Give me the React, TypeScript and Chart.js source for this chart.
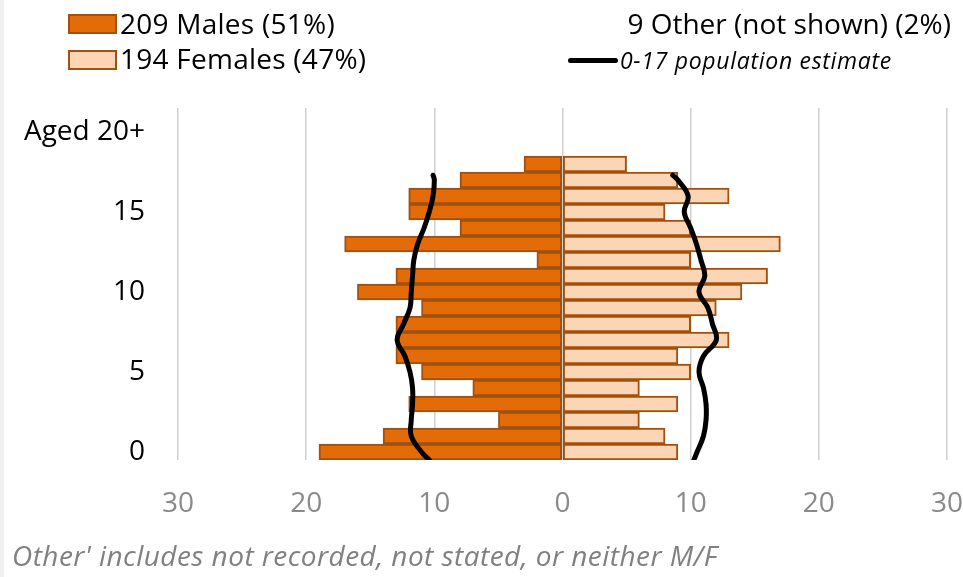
import React, { useEffect, useRef } from 'react';
import { Chart, registerables } from 'chart.js';

Chart.register(...registerables);

// Single-year age bands (bars)
const ages = [0, 1, 2, 3, 4, 5, 6, 7, 8, 9, 10, 11, 12, 13, 14, 15, 16, 17, 18];
const males = [19, 14, 5, 12, 7, 11, 13, 13, 13, 11, 16, 13, 2, 17, 8, 12, 12, 8, 3];
const females = [9, 8, 6, 9, 6, 10, 9, 13, 10, 12, 14, 16, 10, 17, 10, 8, 13, 9, 5];

// 0-17 population estimate (scaled), sampled per age
const popAges = [-0.5, 0, 1, 2, 3, 4, 5, 6, 7, 8, 9, 10, 11, 12, 13, 14, 15, 16, 17, 17.3];
const popMales = [10.4, 11.0, 11.8, 11.8, 11.7, 11.7, 11.9, 12.3, 12.9, 12.4, 11.9, 11.8, 11.7, 11.6, 11.3, 10.8, 10.4, 10.1, 10.0, 10.1];
const popFemales = [10.25, 10.5, 11.0, 11.2, 11.2, 11.0, 10.65, 11.0, 12.0, 11.7, 11.35, 10.65, 11.1, 10.8, 10.45, 10.0, 9.5, 9.8, 9.0, 8.6];

const yTickValues = [0, 5, 10, 15, 20];
const yTickLabels = ['0', '5', '10', '15', 'Aged 20+'];

const legendMales = '209 Males (51%)';
const legendFemales = '194 Females (47%)';
const legendOther = '9 Other (not shown) (2%)';
const legendPop = '0-17 population estimate';
const footnote = "Other' includes not recorded, not stated, or neither M/F";

const MALE_FILL = '#E36C09';
const FEMALE_FILL = '#FCD5B4';
const BAR_BORDER = '#A0500F';
const FONT = "'Open Sans', 'Noto Sans', sans-serif";

export default function App() {
  const ref = useRef<HTMLCanvasElement>(null);

  useEffect(() => {
    const canvas = ref.current;
    if (!canvas) return;
    const chart = new Chart(canvas, {
      type: 'bar',
      data: {
        datasets: [
          {
            type: 'line',
            label: 'Pop males',
            data: popAges.map((y, i) => ({ x: -popMales[i], y })),
            borderColor: '#000000',
            borderWidth: 5,
            pointRadius: 0,
            tension: 0.4,
            borderCapStyle: 'round',
            borderJoinStyle: 'round',
            fill: false,
            order: 0,
          } as any,
          {
            type: 'line',
            label: 'Pop females',
            data: popAges.map((y, i) => ({ x: popFemales[i], y })),
            borderColor: '#000000',
            borderWidth: 5,
            pointRadius: 0,
            tension: 0.4,
            borderCapStyle: 'round',
            borderJoinStyle: 'round',
            fill: false,
            order: 0,
          } as any,
          {
            type: 'bar',
            label: 'Males',
            data: ages.map((a, i) => ({ x: -males[i], y: a })),
            backgroundColor: MALE_FILL,
            borderColor: BAR_BORDER,
            borderWidth: 2,
            borderSkipped: false,
            grouped: false,
            barPercentage: 1,
            categoryPercentage: 1,
            order: 1,
          } as any,
          {
            type: 'bar',
            label: 'Females',
            data: ages.map((a, i) => ({ x: females[i], y: a })),
            backgroundColor: FEMALE_FILL,
            borderColor: BAR_BORDER,
            borderWidth: 2,
            borderSkipped: false,
            grouped: false,
            barPercentage: 1,
            categoryPercentage: 1,
            order: 1,
          } as any,
        ],
      },
      options: {
        indexAxis: 'y',
        animation: false,
        responsive: false,
        devicePixelRatio: 1,
        layout: { padding: { top: 108, right: 16, left: 0, bottom: 0 } },
        plugins: { legend: { display: false }, tooltip: { enabled: false } },
        scales: {
          x: {
            type: 'linear',
            min: -30,
            max: 30,
            offset: false,
            ticks: {
              stepSize: 10,
              callback: (v: any) => String(Math.abs(Number(v))),
              color: '#8a8a8a',
              font: { family: FONT, size: 28 },
              padding: 27,
              maxRotation: 0,
            },
            grid: { color: '#d0d0d0', lineWidth: 1.5, drawTicks: false },
            border: { display: false },
            afterFit: (s: any) => {
              s.height = 117;
              s.paddingLeft = 0;
              s.paddingRight = 0;
            },
          },
          y: {
            type: 'linear',
            min: -0.5,
            max: 21.5,
            offset: false,
            afterBuildTicks: (s: any) => {
              s.ticks = yTickValues.map((v) => ({ value: v }));
            },
            ticks: {
              callback: (v: any) => yTickLabels[yTickValues.indexOf(Number(v))] ?? '',
              color: '#000000',
              font: { family: FONT, size: 28 },
              padding: 33,
              autoSkip: false,
            },
            grid: { display: false, drawTicks: false, offset: false },
            border: { display: false },
            afterFit: (s: any) => {
              s.width = 178;
              s.paddingTop = 0;
              s.paddingBottom = 0;
            },
          },
        },
      } as any,
    });
    return () => chart.destroy();
  }, []);

  const text28: React.CSSProperties = {
    position: 'absolute',
    fontFamily: FONT,
    fontSize: 28,
    lineHeight: '28px',
    color: '#000',
    whiteSpace: 'nowrap',
  };

  return (
    <div style={{ position: 'fixed', left: 0, top: 0, width: 963, height: 577, background: '#ffffff', overflow: 'hidden' }}>
      <div style={{ position: 'absolute', left: 0, top: 0, width: 4, height: 577, background: '#f0f0f0' }} />
      <canvas ref={ref} width={963} height={577} style={{ position: 'absolute', left: 0, top: 0, width: 963, height: 577 }} />
      {/* Legend */}
      <div style={{ position: 'absolute', left: 68, top: 14, width: 49, height: 20, boxSizing: 'border-box', background: MALE_FILL, border: `2px solid ${BAR_BORDER}` }} />
      <div style={{ ...text28, left: 120, top: 9, letterSpacing: '0.25px' }}>{legendMales}</div>
      <div style={{ position: 'absolute', left: 68, top: 50, width: 49, height: 20, boxSizing: 'border-box', background: FEMALE_FILL, border: `2px solid ${BAR_BORDER}` }} />
      <div style={{ ...text28, left: 120, top: 44, letterSpacing: '0.25px' }}>{legendFemales}</div>
      <div style={{ ...text28, right: 963 - 951, top: 9, textAlign: 'right' }}>{legendOther}</div>
      <div style={{ position: 'absolute', left: 568, top: 58, width: 50, height: 5, borderRadius: 3, background: '#000' }} />
      <div style={{ position: 'absolute', left: 620, top: 49, fontFamily: FONT, fontSize: 23, lineHeight: '23px', fontStyle: 'italic', letterSpacing: '0.7px', color: '#000', whiteSpace: 'nowrap' }}>
        {legendPop}
      </div>
      {/* Footnote */}
      <div style={{ position: 'absolute', left: 12, top: 541, fontFamily: FONT, fontSize: 28, lineHeight: '28px', fontStyle: 'italic', letterSpacing: '0.45px', color: '#808080', whiteSpace: 'nowrap' }}>
        {footnote}
      </div>
    </div>
  );
}
